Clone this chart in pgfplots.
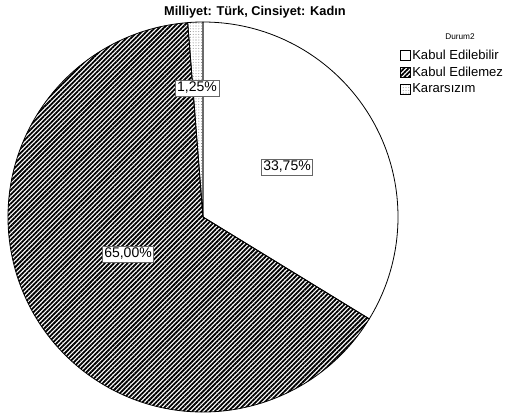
\documentclass[border=0pt]{standalone}
\usepackage{fontspec}
\setmainfont{Liberation Sans}
\usepackage{pgfplots}
\pgfplotsset{compat=1.18}
\usetikzlibrary{patterns.meta}

% Durum2 shares (percent), clockwise from 12 o'clock
\def\vA{33.75} % Kabul Edilebilir
\def\vB{65.00} % Kabul Edilemez
\def\vC{1.25}  % Kararsizim

\tikzset{
  hatch/.style={pattern={Lines[angle=45,distance=2.4pt,line width=1.35pt]},pattern color=black},
  dotty/.style={pattern={Dots[distance=2.1pt,radius=0.4pt]},pattern color=gray},
}

\begin{document}
\begin{tikzpicture}
\begin{axis}[
  hide axis, scale only axis, clip=false,
  x=0.75pt, y=0.75pt,
  xmin=0, xmax=507, ymin=0, ymax=418,
  legend style={at={(axis cs:400,370)}, anchor=north west, draw=none, fill=none,
    font=\fontsize{9.8}{11}\selectfont, inner sep=0pt, row sep=2.2pt,
    nodes={inner sep=1pt}},
  legend cell align=left,
  legend image code/.code={\draw[#1] (0pt,-3.6pt) rectangle (7.5pt,3.9pt);},
]
\addlegendimage{draw=black, line width=0.5pt, fill=white}
\addlegendentry{Kabul Edilebilir}
\addlegendimage{draw=black, line width=0.5pt, hatch}
\addlegendentry{Kabul Edilemez}
\addlegendimage{draw=black, line width=0.5pt, dotty}
\addlegendentry{Kararsızım}

\pgfmathsetmacro{\aA}{90-3.6*\vA}
\pgfmathsetmacro{\aB}{\aA-3.6*\vB}
\pgfmathsetmacro{\aC}{\aB-3.6*\vC}
\def\R{146.25pt}

\filldraw[fill=white, draw=black, line width=0.6pt]
  (axis cs:203,201) -- ++(90:\R) arc[start angle=90, end angle=\aA, radius=\R] -- cycle;
\filldraw[hatch, draw=black, line width=0.6pt]
  (axis cs:203,201) -- ++(\aA:\R) arc[start angle=\aA, end angle=\aB, radius=\R] -- cycle;
\filldraw[dotty, draw=black, line width=0.6pt]
  (axis cs:203,201) -- ++(\aB:\R) arc[start angle=\aB, end angle=\aC, radius=\R] -- cycle;

\tikzset{lbl/.style={draw=black!60, line width=0.6pt, fill=white, inner sep=1.6pt,
  font=\fontsize{10.5}{12}\selectfont}}
\node[lbl] at (axis cs:287,251) {33,75\%};
\node[lbl] at (axis cs:128,164) {65,00\%};
\node[lbl] at (axis cs:197,330) {1,25\%};

\node[font=\bfseries\fontsize{9.6}{11}\selectfont] at (axis cs:255,406)
  {Milliyet: Türk, Cinsiyet: Kadın};
\node[font=\fontsize{6.2}{7}\selectfont] at (axis cs:460,381) {Durum2};
\end{axis}
\pgfresetboundingbox
\path[use as bounding box] (0,0) rectangle (380.25pt,313.5pt);
\end{tikzpicture}
\end{document}
